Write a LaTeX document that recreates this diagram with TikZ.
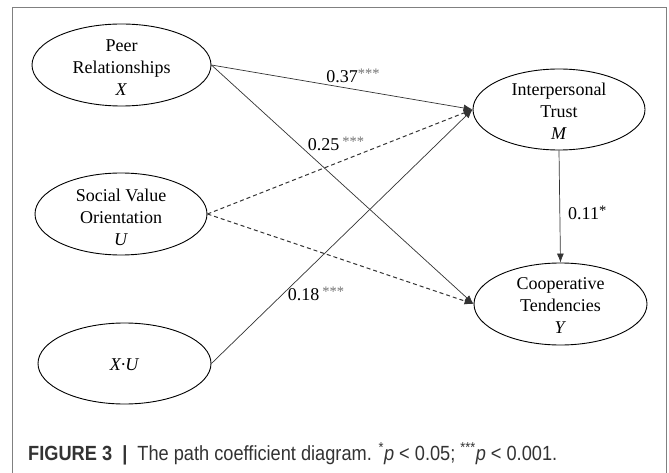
\documentclass[tikz,border=0pt]{standalone}
\usepackage{fontspec}
\usepackage{graphicx}
\setmainfont{Liberation Serif}
\newfontfamily\capfont{Liberation Sans}
\usetikzlibrary{shapes.geometric,arrows.meta}
\newcommand\sigstars{\raisebox{4pt}{\fontsize{14.5}{14.5}\selectfont\color{black!55}***}}
\begin{document}
\begin{tikzpicture}[x=1pt,y=-1pt,
  var/.style={ellipse,draw=black,line width=0.9pt,inner sep=0pt},
  vtext/.style={align=center,inner sep=0pt,font=\fontsize{18}{22}\selectfont},
  pathline/.style={draw=black!80,line width=0.7pt,-{Latex[length=9pt,width=7pt]}},
  dpathline/.style={pathline,dash pattern=on 4pt off 3pt,line width=1pt},
  coef/.style={font=\fontsize{18}{20}\selectfont,inner sep=1pt}]
\useasboundingbox (0,0) rectangle (669,473);
\fill[white] (0,0) rectangle (669,473);
\draw[gray,line width=1pt] (12.5,480) -- (12.5,7.5) -- (666.5,7.5) -- (666.5,480);

\node[var,minimum width=179pt,minimum height=82pt] (X) at (121.5,65) {};
\node[var,minimum width=172pt,minimum height=82pt] (S) at (121,214) {};
\node[var,minimum width=173pt,minimum height=81pt] (XU) at (124.5,363.5) {};
\node[var,minimum width=172pt,minimum height=81pt] (T) at (559,109.5) {};
\node[var,minimum width=173pt,minimum height=82pt] (C) at (560.5,304) {};

\node[vtext] (Xt) at ([yshift=-3pt]X.center) {Peer\\Relationships\\\textit{X}};
\node[vtext] (St) at ([yshift=-3pt]S.center) {Social Value\\Orientation\\\textit{U}};
\node[vtext] (XUt) at ([yshift=-1pt]XU.center) {\textit{X·U}};
\node[vtext] (Tt) at ([yshift=-2pt]T.center) {Interpersonal\\Trust\\\textit{M}};
\node[vtext] (Ct) at ([yshift=-2pt]C.center) {Cooperative\\Tendencies\\\textit{Y}};

\draw[pathline] (X.east) -- (T.west);
\draw[pathline] (X.east) -- (C.west);
\draw[dpathline] (S.east) -- (T.west);
\draw[dpathline] (S.east) -- (C.west);
\draw[pathline] (XU.east) -- (T.west);
\draw[pathline] (T.south) -- (C.north);

\node[coef] (l37) at (353,76) {0.37\sigstars};
\node[coef] (l25) at (336,144) {0.25\,\sigstars};
\node[coef] (l18) at (316,294) {0.18\,\sigstars};
\node[coef,anchor=west] (l11) at (567,213) {0.11\raisebox{4pt}{\fontsize{14.5}{14.5}\selectfont *}};

\node[anchor=base west,inner sep=0pt,text=black!80] (cap) at (28,460)
  {\resizebox{529pt}{\height}{\capfont\fontsize{20.5}{24}\selectfont\textbf{FIGURE 3\ \ |}\ \ The path coefficient diagram. \textsuperscript{*}\textit{p} < 0.05; \textsuperscript{***}\textit{p} < 0.001.}};
\end{tikzpicture}
\end{document}
